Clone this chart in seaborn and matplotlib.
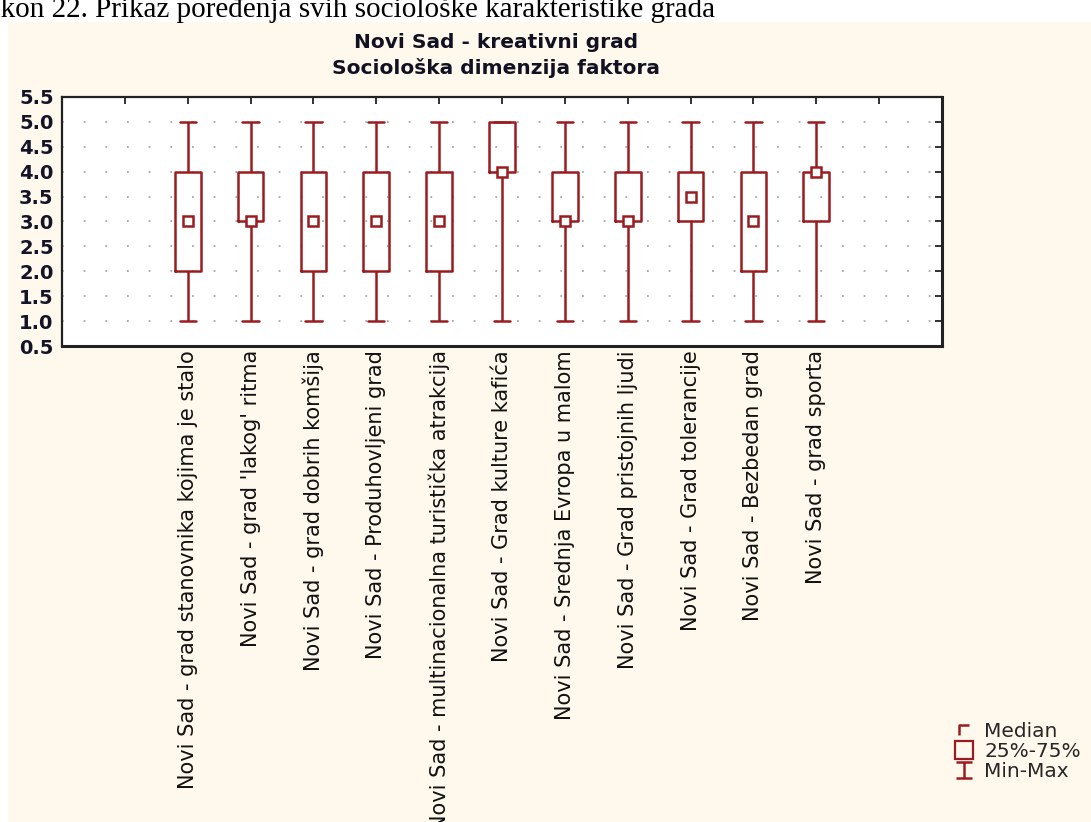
import numpy as np
import pandas as pd
import matplotlib
matplotlib.use("Agg")
import matplotlib.pyplot as plt
from matplotlib.lines import Line2D
from matplotlib.patches import Rectangle
from matplotlib.path import Path
import seaborn as sns

# Five-number summaries of the sociological items (scale 1-5)
stavke = [
    "Novi Sad - grad stanovnika kojima je stalo",
    "Novi Sad - grad 'lakog' ritma",
    "Novi Sad - grad dobrih komšija",
    "Novi Sad - Produhovljeni grad",
    "Novi Sad - multinacionalna turistička atrakcija",
    "Novi Sad - Grad kulture kafića",
    "Novi Sad - Srednja Evropa u malom",
    "Novi Sad - Grad pristojnih ljudi",
    "Novi Sad - Grad tolerancije",
    "Novi Sad - Bezbedan grad",
    "Novi Sad - grad sporta",
]
minimum = [1, 1, 1, 1, 1, 1, 1, 1, 1, 1, 1]
kvartil_1 = [2, 3, 2, 2, 2, 4, 3, 3, 3, 2, 3]
medijana = [3, 3, 3, 3, 3, 4, 3, 3, 3.5, 3, 4]
kvartil_3 = [4, 4, 4, 4, 4, 5, 4, 4, 4, 4, 4]
maksimum = [5, 5, 5, 5, 5, 5, 5, 5, 5, 5, 5]
y_oznake = ["0.5", "1.0", "1.5", "2.0", "2.5", "3.0", "3.5", "4.0", "4.5", "5.0", "5.5"]

CRVENA = "#9a1c20"
POZADINA = "#fff9ed"

# Five values per item reproduce min / Q1 / median / Q3 / max exactly
vrednosti = np.column_stack([minimum, kvartil_1, medijana, kvartil_3, maksimum]).ravel()
df = pd.DataFrame({"stavka": np.repeat(stavke, 5), "ocena": vrednosti})
df_med = pd.DataFrame({"stavka": stavke, "medijana": medijana})

sns.set_style("white")
fig = plt.figure(figsize=(10.91, 8.22), dpi=100, facecolor="white")

# cream panel behind the whole graph
fig.patches.append(Rectangle((8 / 1091, 0), 1 - 8 / 1091, 1 - 22 / 822,
                             transform=fig.transFigure, facecolor=POZADINA,
                             edgecolor="none", zorder=-10))

ax = fig.add_axes([62 / 1091, 1 - 346 / 822, 880 / 1091, 249 / 822])
ax.set_zorder(2)
ax.set_facecolor("white")

sns.boxplot(data=df, x="stavka", y="ocena", order=stavke, whis=(0, 100),
            width=0.41, fill=False, color=CRVENA, linecolor=CRVENA,
            linewidth=1.8, capwidths=0.26, showfliers=False,
            medianprops={"visible": False}, ax=ax, zorder=2)

sns.pointplot(data=df_med, x="stavka", y="medijana", order=stavke,
              linestyle="none", marker="s", markersize=7,
              markerfacecolor="white", markeredgecolor=CRVENA,
              markeredgewidth=1.8, color=CRVENA, errorbar=None,
              ax=ax, zorder=4)

ax.set_xlim(-2, 12)
ax.set_ylim(0.5, 5.5)
ax.set_xticks(range(-1, 12))
ax.set_xticklabels([""] + stavke + [""], rotation=90, fontsize=15,
                   family="DejaVu Sans", va="top", ha="center", color="#111111")
ax.set_yticks(np.arange(0.5, 5.51, 0.5))
ax.set_yticklabels(y_oznake, fontsize=14, family="DejaVu Sans",
                   fontweight="bold", color="#141428")
ax.set_xlabel("")
ax.set_ylabel("")

ax.yaxis.grid(True, linestyle=(0, (1, 11)), color="#a8a8a8", linewidth=1.3)
ax.xaxis.grid(False)
ax.set_axisbelow(True)

ax.tick_params(axis="both", direction="in", length=5, width=1.3,
               top=True, right=True, color="#222222")
ax.tick_params(axis="x", pad=3)
ax.tick_params(axis="y", pad=6)
for s in ax.spines.values():
    s.set_visible(True)
    s.set_color("#222222")
    s.set_linewidth(1.6)
ax.spines["right"].set_linewidth(2.2)
ax.spines["bottom"].set_linewidth(2.2)

# titles and caption
fig.text(0.455, 1 - 42 / 822, "Novi Sad - kreativni grad", ha="center",
         va="center", fontsize=14.5, fontweight="bold", family="DejaVu Sans",
         color="#111122")
fig.text(0.455, 1 - 68 / 822, "Sociološka dimenzija faktora", ha="center",
         va="center", fontsize=14.5, fontweight="bold", family="DejaVu Sans",
         color="#111122")
fig.text(-0.056, 1 - 17 / 822,
         "Grafikon 22. Prikaz poređenja svih sociološke karakteristike grada",
         ha="left", va="baseline", fontsize=21, family="Liberation Serif",
         color="black")

# legend: median, interquartile box, min-max range
med_put = Path([(-1, -1), (-1, 1), (1, 1)], [Path.MOVETO, Path.LINETO, Path.LINETO])
minmax_put = Path([(-1, 1), (1, 1), (0, 1), (0, -1), (-1, -1), (1, -1)],
                  [Path.MOVETO, Path.LINETO, Path.MOVETO, Path.LINETO,
                   Path.MOVETO, Path.LINETO])
rucke = [
    Line2D([], [], linestyle="none", marker=med_put, markersize=7,
           markerfacecolor="none", markeredgecolor=CRVENA, markeredgewidth=1.8),
    Line2D([], [], linestyle="none", marker="s", markersize=13,
           markerfacecolor="none", markeredgecolor=CRVENA, markeredgewidth=1.6),
    Line2D([], [], linestyle="none", marker=minmax_put, markersize=12,
           markerfacecolor="none", markeredgecolor=CRVENA, markeredgewidth=1.8),
]
fig.legend(rucke, ["Median", "25%-75%", "Min-Max"], loc="upper left",
           bbox_to_anchor=(942 / 1091, 1 - 712 / 822), frameon=False,
           handlelength=1.2, handletextpad=0.4, labelspacing=0.05,
           borderpad=0, prop={"family": "DejaVu Sans", "size": 14.5})

fig.savefig("out.png", dpi=100, facecolor="white")
